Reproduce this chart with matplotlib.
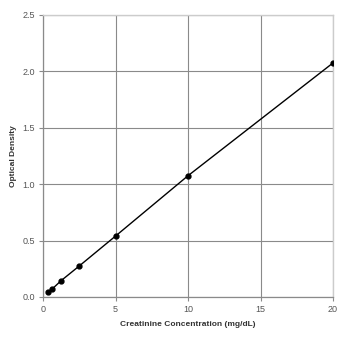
import matplotlib
matplotlib.use("Agg")
import matplotlib.pyplot as plt

conc = [0.3125, 0.625, 1.25, 2.5, 5, 10, 20]
od = [0.044, 0.07, 0.145, 0.275, 0.54, 1.075, 2.075]
xticks = [0, 5, 10, 15, 20]
yticks = [0.0, 0.5, 1.0, 1.5, 2.0, 2.5]

plt.rcParams['font.family'] = ['Liberation Sans', 'DejaVu Sans']
fig = plt.figure(figsize=(3.53, 3.42), dpi=100)
ax = fig.add_axes([43/353, 45/342, 290/353, 282/342])
ax.plot(conc, od, color='black', lw=1.0, marker='o', ms=3.5, zorder=3)
ax.set_xlim(0, 20)
ax.set_ylim(0, 2.5)
ax.set_xticks(xticks)
ax.set_yticks(yticks)
ax.set_yticklabels([f"{v:.1f}" for v in yticks])
ax.grid(True, color='#8a8a8a', lw=0.8)
for s in ['top', 'right']:
    ax.spines[s].set_color('#cccccc')
    ax.spines[s].set_linewidth(1.0)
for s in ['left', 'bottom']:
    ax.spines[s].set_color('#8a8a8a')
    ax.spines[s].set_linewidth(0.9)
ax.tick_params(colors='#8a8a8a', labelcolor='#555555', labelsize=6.5, length=3, width=0.8, pad=3)
ax.set_xlabel('Creatinine Concentration (mg/dL)', fontsize=6, fontweight='bold', color='#333333', labelpad=5)
ax.set_ylabel('Optical Density', fontsize=6, fontweight='bold', color='#333333', labelpad=4)
fig.savefig('out.png', dpi=100)
